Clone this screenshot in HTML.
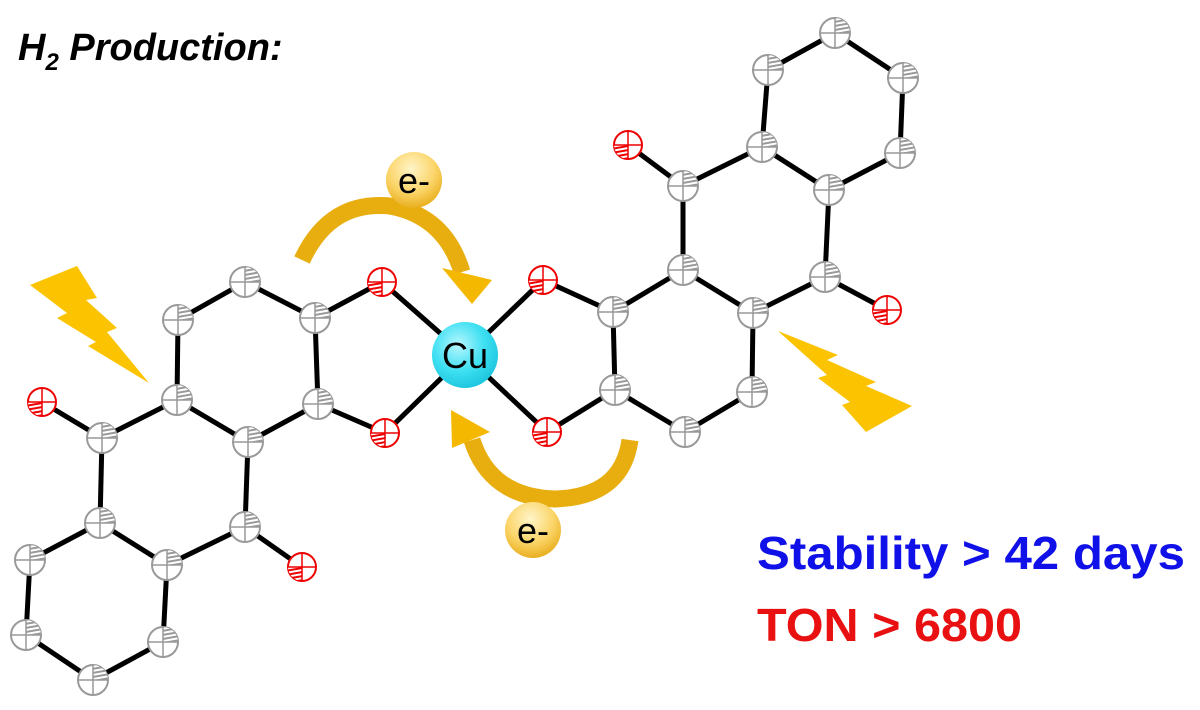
<!DOCTYPE html>
<html><head><meta charset="utf-8"><style>
html,body{margin:0;padding:0;background:#fff;width:1200px;height:710px;overflow:hidden}
svg{display:block}
</style></head><body>
<svg width="1200" height="710" viewBox="0 0 1200 710" xmlns="http://www.w3.org/2000/svg">
<defs>
<pattern id="hg" width="4" height="4" patternUnits="userSpaceOnUse" patternTransform="rotate(80)"><rect width="4" height="4" fill="#fff"/><rect width="2" height="4" fill="#999"/></pattern>
<pattern id="hr" width="4" height="4" patternUnits="userSpaceOnUse" patternTransform="rotate(80)"><rect width="4" height="4" fill="#fff"/><rect width="2" height="4" fill="#e00"/></pattern>
<radialGradient id="cu" cx="40%" cy="35%" r="65%"><stop offset="0" stop-color="#b8f6ff"/><stop offset="0.6" stop-color="#3fe0f2"/><stop offset="1" stop-color="#1fc8e0"/></radialGradient>
<radialGradient id="el" cx="45%" cy="30%" r="70%"><stop offset="0" stop-color="#fff4c8"/><stop offset="0.6" stop-color="#fbd56a"/><stop offset="1" stop-color="#e9b020"/></radialGradient>
<g id="C"><circle r="15" fill="#fff" stroke="#999" stroke-width="2"/><path d="M0,0 L0,-15 A15,15 0 0 1 15,0 Z" fill="url(#hg)"/><path d="M-15,0 H15 M0,-15 V15" stroke="#999" stroke-width="1.5"/></g>
<g id="O"><circle r="14" fill="#fff" stroke="#e00" stroke-width="2"/><path d="M0,0 L-14,0 A14,14 0 0 0 0,14 Z" fill="url(#hr)"/><path d="M-14,0 H14 M0,-14 V14" stroke="#e00" stroke-width="1.5"/></g>
</defs>
<text x="18" y="60" font-family="Liberation Sans, sans-serif" font-size="38" font-weight="bold" font-style="italic">H<tspan font-size="24" dy="10">2</tspan><tspan dy="-10"> Production:</tspan></text>
<polygon points="30,285 77,266 97,298 86,300 117,328 107,332 149,383 88,346 96,342 57,318 67,313" fill="#fcc300"/>
<polygon points="778,331 838,355 827,360 876,382 866,386 912,406 866,432 842,405 850,402 818,378 827,375" fill="#fcc300"/>
<g stroke="#000" stroke-width="5" fill="none" stroke-linecap="round">
<path d="M245,282 L178,320 L177,400 L248,442 L318,404 L315,318 Z"/>
<path d="M315,318 L382,282 L465,355 L385,433 L318,404"/>
<path d="M177,400 L102,438 L42,402 M102,438 L100,523 L167,565 L245,527 L248,442 M245,527 L302,567"/>
<path d="M100,523 L30,560 L26,635 L93,680 L163,642 L167,565"/>
<path d="M613,312 L683,270 L753,313 L752,392 L685,432 L615,390 Z"/>
<path d="M465,355 L543,280 L613,312 M465,355 L547,432 L615,390"/>
<path d="M683,270 L683,186 L628,145 M683,186 L762,147 L829,190 L825,277 L753,313 M825,277 L887,310"/>
<path d="M762,147 L768,70 L835,33 L903,78 L900,153 L829,190"/>
</g>
<g>
<use href="#C" x="245" y="282"/><use href="#C" x="178" y="320"/><use href="#C" x="177" y="400"/><use href="#C" x="248" y="442"/><use href="#C" x="318" y="404"/><use href="#C" x="315" y="318"/>
<use href="#C" x="102" y="438"/><use href="#C" x="100" y="523"/><use href="#C" x="167" y="565"/><use href="#C" x="245" y="527"/>
<use href="#C" x="30" y="560"/><use href="#C" x="26" y="635"/><use href="#C" x="93" y="680"/><use href="#C" x="163" y="642"/>
<use href="#C" x="613" y="312"/><use href="#C" x="615" y="390"/><use href="#C" x="685" y="432"/><use href="#C" x="752" y="392"/><use href="#C" x="753" y="313"/><use href="#C" x="683" y="270"/>
<use href="#C" x="683" y="186"/><use href="#C" x="762" y="147"/><use href="#C" x="825" y="277"/><use href="#C" x="829" y="190"/>
<use href="#C" x="768" y="70"/><use href="#C" x="835" y="33"/><use href="#C" x="903" y="78"/><use href="#C" x="900" y="153"/>
<use href="#O" x="382" y="282"/><use href="#O" x="385" y="433"/><use href="#O" x="42" y="402"/><use href="#O" x="302" y="567"/>
<use href="#O" x="543" y="280"/><use href="#O" x="547" y="432"/><use href="#O" x="628" y="145"/><use href="#O" x="887" y="310"/>
</g>
<path d="M302,260 Q330,200 390,206 Q445,216 462,272" stroke="#e8ae10" stroke-width="17" fill="none"/>
<polygon points="442,268 492,280 472,304" fill="#f5b800"/>
<path d="M630,440 Q622,497 555,499 Q490,497 472,440" stroke="#e8ae10" stroke-width="17" fill="none"/>
<polygon points="451,410 490,432 452,448" fill="#f5b800"/>
<circle cx="465" cy="355" r="33" fill="url(#cu)"/>
<text x="465" y="368" font-family="Liberation Sans, sans-serif" font-size="36" text-anchor="middle">Cu</text>
<circle cx="414" cy="180" r="28" fill="url(#el)"/>
<text x="414" y="193" font-family="Liberation Sans, sans-serif" font-size="36" text-anchor="middle">e-</text>
<circle cx="533" cy="530" r="28" fill="url(#el)"/>
<text x="533" y="543" font-family="Liberation Sans, sans-serif" font-size="36" text-anchor="middle">e-</text>
<text x="757" y="569" font-family="Liberation Sans, sans-serif" font-size="46" font-weight="bold" fill="#1010e8" textLength="428" lengthAdjust="spacingAndGlyphs">Stability &gt; 42 days</text>
<text x="757" y="641" font-family="Liberation Sans, sans-serif" font-size="46" font-weight="bold" fill="#e81010" textLength="265" lengthAdjust="spacingAndGlyphs">TON &gt; 6800</text>
</svg>
</body></html>
